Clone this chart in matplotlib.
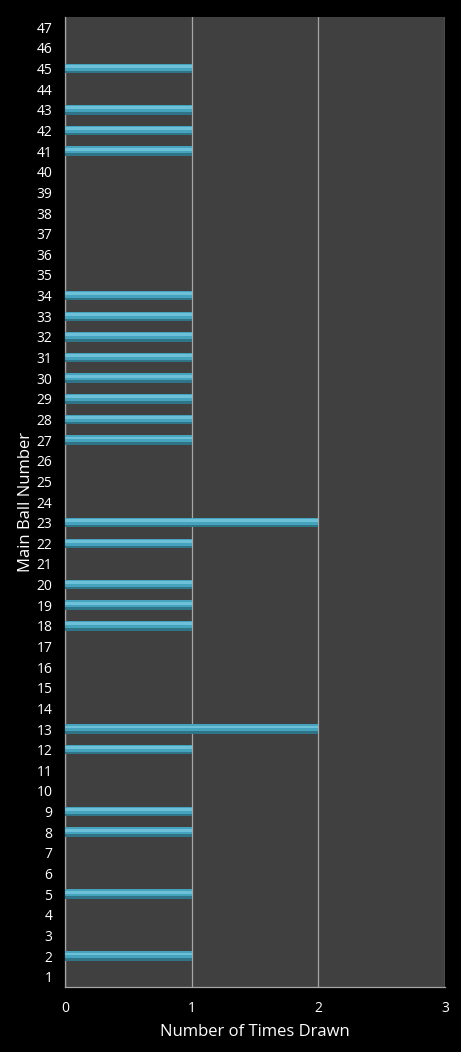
import matplotlib.pyplot as plt

balls = list(range(1, 48))
drawn = {2: 1, 5: 1, 8: 1, 9: 1, 12: 1, 13: 2, 18: 1, 19: 1, 20: 1, 22: 1, 23: 2,
         27: 1, 28: 1, 29: 1, 30: 1, 31: 1, 32: 1, 33: 1, 34: 1,
         41: 1, 42: 1, 43: 1, 45: 1}
counts = [drawn.get(b, 0) for b in balls]
x_ticks = [0, 1, 2, 3]

plt.rcParams['font.family'] = ['Open Sans', 'DejaVu Sans']

fig = plt.figure(figsize=(4.61, 10.52), dpi=100, facecolor="black")
ax = fig.add_axes([65 / 461, 65 / 1052, 380 / 461, 970 / 1052])
ax.set_facecolor("#404040")

# bevelled bar: base colour, darker bottom edge, soft lighter top
ax.barh(balls, counts, height=0.46, color="#45a3bd", edgecolor="none", zorder=3)
ax.barh([b - 0.17 for b in balls], counts, height=0.12, color="#2f7487",
        edgecolor="none", zorder=4)
ax.barh([b + 0.1 for b in balls], counts, height=0.14, color="#6cc0d8",
        edgecolor="none", zorder=4)

ax.set_xlim(0, 3)
ax.set_ylim(0.5, 47.5)
ax.set_xticks(x_ticks)
ax.set_yticks(balls)
ax.grid(axis="x", color="#a6a6a6", linewidth=0.9, zorder=1)
ax.tick_params(colors="white", labelsize=10, length=0)
ax.tick_params(axis="x", pad=10)
ax.tick_params(axis="y", pad=9)
for side in ["top", "right"]:
    ax.spines[side].set_visible(False)
for side in ["left", "bottom"]:
    ax.spines[side].set_color("#a6a6a6")
    ax.spines[side].set_linewidth(0.9)

ax.set_xlabel("Number of Times Drawn", color="white", fontsize=12, labelpad=6)
ax.set_ylabel("Main Ball Number", color="white", fontsize=12, labelpad=2)

fig.savefig("out.png", dpi=100, facecolor="black")
